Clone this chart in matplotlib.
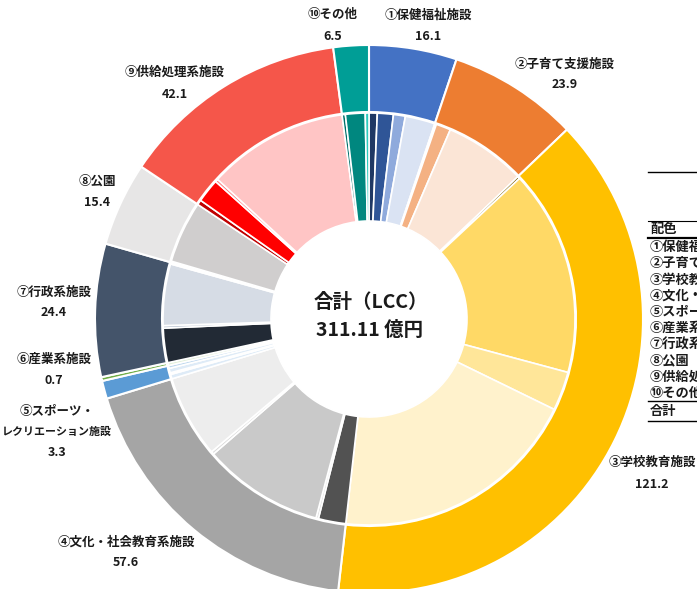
import matplotlib
matplotlib.use("Agg")
import matplotlib.pyplot as plt

plt.rcParams['font.family'] = ['Noto Sans CJK JP', 'DejaVu Sans']

# ---- data ----
categories = ["①保健福祉施設", "②子育て支援施設", "③学校教育施設", "④文化・社会教育系施設",
              "⑤スポーツ・\nレクリエーション施設", "⑥産業系施設", "⑦行政系施設", "⑧公園",
              "⑨供給処理系施設", "⑩その他"]
outer_values = [16.1, 23.9, 121.2, 57.6, 3.3, 0.7, 24.4, 15.4, 42.1, 6.5]
outer_colors = ['#4472C4', '#ED7D31', '#FFC000', '#A5A5A5', '#5B9BD5',
                '#70AD47', '#44546A', '#E7E6E6', '#F5564A', '#009E96']

g1_values = [2.0, 3.9, 2.9, 7.3]
g1_colors = ['#1F3864', '#2F5597', '#8FAADC', '#DAE3F3']
g2_values = [0.4, 3.6, 19.9]
g2_colors = ['#843C0C', '#F4B183', '#FBE5D6']
g3_values = [0.6, 50.2, 9.5, 60.9]
g3_colors = ['#7F6000', '#FFD966', '#FFE699', '#FFF2CC']
g4_values = [6.7, 0.6, 29.5, 0.7, 20.1]
g4_colors = ['#525252', '#DBDBDB', '#C9C9C9', '#DBDBDB', '#EDEDED']
g5_values = [1.1, 0.4, 1.1, 0.7]
g5_colors = ['#DEEBF7', '#9DC3E6', '#DEEBF7', '#BDD7EE']
g6_values = [0.7]
g6_colors = ['#E2F0D9']
g7_values = [8.4, 0.6, 15.0, 0.4]
g7_colors = ['#222A35', '#ADB9CA', '#D6DCE5', '#F2F2F2']
g8_values = [0.3, 15.1]
g8_colors = ['#F2F2F2', '#D0CECE']
g9_values = [1.2, 5.8, 0.7, 34.4]
g9_colors = ['#C00000', '#FF0000', '#FF7C80', '#FFC5C5']
g10_values = [0.8, 4.8, 0.9]
g10_colors = ['#00716B', '#00877F', '#2BCBBE']

total_text = "合計（LCC）"
total_value_text = "311.11 億円"

table_header = "配色"
table_rows = ["①保健福祉施設", "②子育て支援施設", "③学校教育施設", "④文化・社会教育系施設",
              "⑤スポーツ・レクリエーション施設", "⑥産業系施設", "⑦行政系施設", "⑧公園",
              "⑨供給処理系施設", "⑩その他"]
table_total = "合計"

inner_values = (g1_values + g2_values + g3_values + g4_values + g5_values +
                g6_values + g7_values + g8_values + g9_values + g10_values)
inner_colors = (g1_colors + g2_colors + g3_colors + g4_colors + g5_colors +
                g6_colors + g7_colors + g8_colors + g9_colors + g10_colors)

# ---- figure ----
W, H = 697, 589
fig = plt.figure(figsize=(W / 100, H / 100), dpi=100)
ax = fig.add_axes([0, 0, 1, 1])

def Y(py):
    return H - py

cx, cy = 369, Y(319)
R_out, R_mid, R_in = 274, 207, 98

ax.pie(outer_values, radius=R_out, center=(cx, cy), startangle=90, counterclock=False,
       colors=outer_colors, wedgeprops=dict(width=R_out - R_mid, edgecolor='white', linewidth=1.5))
ax.pie(inner_values, radius=R_mid - 1, center=(cx, cy), startangle=90, counterclock=False,
       colors=inner_colors, wedgeprops=dict(width=R_mid - 1 - R_in, edgecolor='white', linewidth=1.2))

ax.set_xlim(0, W)
ax.set_ylim(0, H)
ax.set_aspect('equal')
ax.axis('off')

txt = '#1a1a1a'
fs = 9
# outer labels (name, value) positions
label_pos = [(428, 15, 37), (565, 64, 85), (652, 462, 484), (126, 542, 563),
             (57, 411, 452), (54, 359, 380), (54, 292, 313), (97, 181, 202),
             (175, 72, 94), (333, 14, 36)]
for name, val, (x, yn, yv) in zip(categories, outer_values, label_pos):
    if '\n' in name:
        l1, l2 = name.split('\n')
        ax.text(x, Y(yn), l1, ha='center', va='center', fontsize=fs, fontweight='bold', color=txt)
        ax.text(x, Y(yn + 21), l2, ha='center', va='center', fontsize=7.9, fontweight='bold', color=txt)
    else:
        ax.text(x, Y(yn), name, ha='center', va='center', fontsize=fs, fontweight='bold', color=txt)
    ax.text(x, Y(yv), f"{val:.1f}", ha='center', va='center', fontsize=fs, fontweight='bold', color=txt)

# center text
ax.text(371, Y(302), total_text, ha='center', va='center', fontsize=14, fontweight='bold', color=txt)
ax.text(370, Y(330), total_value_text, ha='center', va='center', fontsize=14, fontweight='bold', color=txt)

# partial table at right
tx = 650
tfs = 9.5
ax.plot([648, W], [Y(172), Y(172)], color='black', lw=1)
ax.plot([648, W], [Y(221), Y(221)], color='black', lw=0.8)
ax.text(tx, Y(229), table_header, ha='left', va='center', fontsize=tfs, fontweight='bold', color=txt)
ax.plot([648, W], [Y(237.5), Y(237.5)], color='black', lw=1.6)
for i, r in enumerate(table_rows):
    ax.text(tx, Y(247 + i * 16.2), r, ha='left', va='center', fontsize=tfs, fontweight='bold', color=txt)
ax.plot([648, W], [Y(401), Y(401)], color='black', lw=1)
ax.text(tx, Y(411), table_total, ha='left', va='center', fontsize=tfs, fontweight='bold', color=txt)
ax.plot([648, W], [Y(421), Y(421)], color='black', lw=1)

fig.savefig('out.png', dpi=100)
